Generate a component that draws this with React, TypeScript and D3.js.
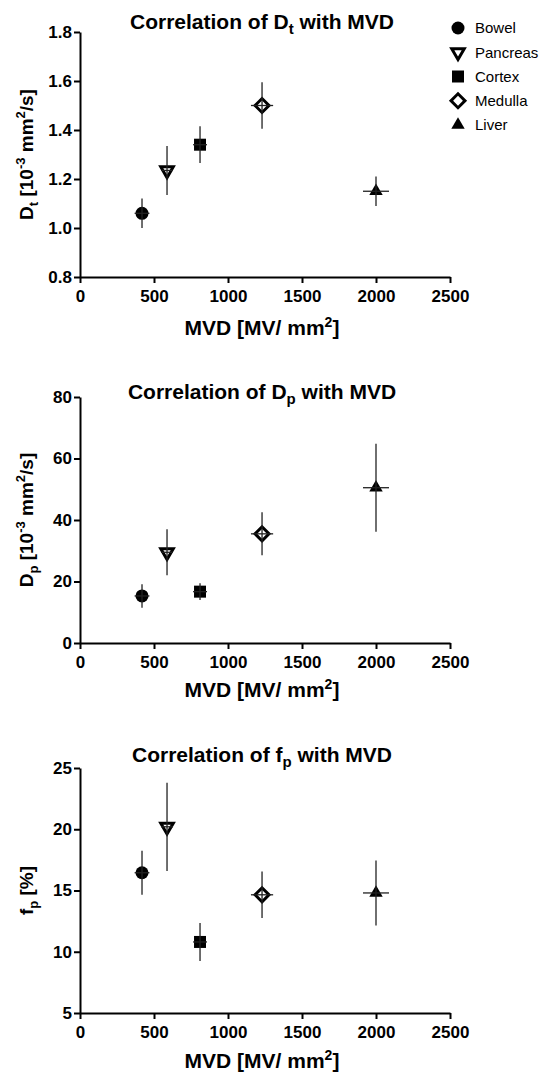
// Three stacked scatter panels: perfusion parameters vs. microvessel density
// (MVD), one marker per tissue with vertical and horizontal error bars.
import React, { useEffect, useRef } from 'react';
import * as d3 from 'd3';

const WIDTH = 542;
const HEIGHT = 1075;
const FONT = '"Liberation Sans", Arial, sans-serif';

const tissues = ['Bowel', 'Pancreas', 'Cortex', 'Medulla', 'Liver'];
const mvd = [419, 588, 811, 1230, 2000];
const mvdErr = [50, 40, 47, 75, 88];

const dtMean = [1.06, 1.235, 1.34, 1.5, 1.15];
const dtErr = [0.06, 0.1, 0.075, 0.095, 0.06];
const dpMean = [15.3, 29.5, 16.7, 35.5, 50.5];
const dpErr = [3.8, 7.5, 2.7, 7, 14.3];
const fpMean = [16.45, 20.2, 10.8, 14.65, 14.8];
const fpErr = [1.8, 3.6, 1.55, 1.9, 2.65];

const xTicks = [0, 500, 1000, 1500, 2000, 2500];
const dtTicks = [0.8, 1.0, 1.2, 1.4, 1.6, 1.8];
const dpTicks = [0, 20, 40, 60, 80];
const fpTicks = [5, 10, 15, 20, 25];

const PLOT_LEFT = 80;
const PLOT_RIGHT = 450;

type Panel = {
  sym: string;
  top: number;
  bottom: number;
  titleY: number;
  xLabelY: number;
  mean: number[];
  err: number[];
  ticks: number[];
  fmt: (v: number) => string;
};

const panels: Panel[] = [
  { sym: 't', top: 32, bottom: 277, titleY: 29, xLabelY: 335, mean: dtMean, err: dtErr, ticks: dtTicks, fmt: d3.format('.1f') },
  { sym: 'p', top: 397, bottom: 643, titleY: 399, xLabelY: 697, mean: dpMean, err: dpErr, ticks: dpTicks, fmt: d3.format('d') },
  { sym: 'p', top: 768, bottom: 1013, titleY: 762, xLabelY: 1068, mean: fpMean, err: fpErr, ticks: fpTicks, fmt: d3.format('d') },
];

// marker style per tissue
const markers = [
  { type: d3.symbolCircle, size: 133, fill: '#000', stroke: 'none', rotate: 0 },
  { type: d3.symbolTriangle, size: 68, fill: '#fff', stroke: '#000', rotate: 180 },
  { type: d3.symbolSquare, size: 144, fill: '#000', stroke: 'none', rotate: 0 },
  { type: d3.symbolSquare, size: 98, fill: '#fff', stroke: '#000', rotate: 45 },
  { type: d3.symbolTriangle, size: 78, fill: '#000', stroke: 'none', rotate: 0 },
];

const App = () => {
  const svgRef = useRef<SVGSVGElement>(null);

  useEffect(() => {
    document.body.style.margin = '0';
    const svg = d3.select(svgRef.current).attr('width', WIDTH).attr('height', HEIGHT);
    svg.selectAll('*').remove();
    svg.append('rect').attr('width', WIDTH).attr('height', HEIGHT).attr('fill', 'white');

    const x = d3.scaleLinear().domain([0, 2500]).range([PLOT_LEFT, PLOT_RIGHT]);

    panels.forEach((p, pi) => {
      const y = d3
        .scaleLinear()
        .domain([p.ticks[0], p.ticks[p.ticks.length - 1]])
        .range([p.bottom, p.top]);
      const g = svg.append('g');

      // axes
      const xAxis = g
        .append('g')
        .attr('transform', `translate(0,${p.bottom})`)
        .call(
          d3.axisBottom(x).tickValues(xTicks).tickFormat(d3.format('d') as any)
            .tickSize(6).tickSizeOuter(0).tickPadding(7),
        );
      const yAxis = g
        .append('g')
        .attr('transform', `translate(${PLOT_LEFT},0)`)
        .call(d3.axisLeft(y).tickValues(p.ticks).tickFormat(p.fmt as any).tickSize(6).tickSizeOuter(0).tickPadding(2));
      [xAxis, yAxis].forEach((a) => {
        a.selectAll('path, line').attr('stroke', '#000').attr('stroke-width', 2);
        a.selectAll('text')
          .attr('fill', '#000')
          .attr('font-family', FONT)
          .attr('font-weight', 'bold')
          .attr('font-size', '17px');
      });

      // markers
      g.append('g')
        .selectAll('path')
        .data(tissues)
        .enter()
        .append('path')
        .attr('d', (_d, i) => d3.symbol().type(markers[i].type).size(markers[i].size)())
        .attr('transform', (_d, i) => `translate(${x(mvd[i])},${y(p.mean[i])}) rotate(${markers[i].rotate})`)
        .attr('fill', (_d, i) => markers[i].fill)
        .attr('stroke', (_d, i) => markers[i].stroke)
        .attr('stroke-width', 3)
        .attr('stroke-linejoin', 'miter');

      // error bars (drawn over the markers, visible through open symbols)
      const eb = g.append('g').attr('stroke', '#222').attr('stroke-width', 1.3);
      eb.selectAll('line.v')
        .data(tissues)
        .enter()
        .append('line')
        .attr('x1', (_d, i) => x(mvd[i]))
        .attr('x2', (_d, i) => x(mvd[i]))
        .attr('y1', (_d, i) => y(p.mean[i] - p.err[i]))
        .attr('y2', (_d, i) => y(p.mean[i] + p.err[i]));
      eb.selectAll('line.h')
        .data(tissues)
        .enter()
        .append('line')
        .attr('x1', (_d, i) => x(mvd[i] - mvdErr[i]))
        .attr('x2', (_d, i) => x(mvd[i] + mvdErr[i]))
        .attr('y1', (_d, i) => y(p.mean[i]))
        .attr('y2', (_d, i) => y(p.mean[i]));

      // title
      const qty = pi === 2 ? 'f' : 'D';
      const title = g
        .append('text')
        .attr('x', 262)
        .attr('y', p.titleY)
        .attr('text-anchor', 'middle')
        .attr('font-family', FONT)
        .attr('font-weight', 'bold')
        .attr('font-size', '21px');
      title.append('tspan').text(`Correlation of ${qty}`);
      title.append('tspan').attr('font-size', '15px').attr('dy', 5).text(p.sym);
      title.append('tspan').attr('dy', -5).text(' with MVD');

      // x label
      const xl = g
        .append('text')
        .attr('x', 262)
        .attr('y', p.xLabelY)
        .attr('text-anchor', 'middle')
        .attr('font-family', FONT)
        .attr('font-weight', 'bold')
        .attr('font-size', '21px');
      xl.append('tspan').text('MVD [MV/ mm');
      xl.append('tspan').attr('font-size', '14px').attr('dy', -8).text('2');
      xl.append('tspan').attr('dy', 8).text(']');

      // y label
      const yc = (p.top + p.bottom) / 2;
      const yl = g
        .append('text')
        .attr('transform', `translate(33,${yc}) rotate(-90)`)
        .attr('text-anchor', 'middle')
        .attr('font-family', FONT)
        .attr('font-weight', 'bold')
        .attr('font-size', '19px');
      yl.append('tspan').text(qty);
      yl.append('tspan').attr('font-size', '13px').attr('dy', 5).text(p.sym);
      if (pi === 2) {
        yl.append('tspan').attr('dy', -5).text(' [%]');
      } else {
        yl.append('tspan').attr('dy', -5).text(' [10');
        yl.append('tspan').attr('font-size', '13px').attr('dy', -8).text('-3');
        yl.append('tspan').attr('dy', 8).text(' mm');
        yl.append('tspan').attr('font-size', '13px').attr('dy', -8).text('2');
        yl.append('tspan').attr('dy', 8).text('/s]');
      }
    });

    // legend
    const legendY = d3.scalePoint().domain(tissues).range([28, 125]);
    const lg = svg.append('g');
    lg.selectAll('path')
      .data(tissues)
      .enter()
      .append('path')
      .attr('d', (_d, i) => d3.symbol().type(markers[i].type).size(markers[i].size)())
      .attr('transform', (d, i) => `translate(458,${legendY(d)}) rotate(${markers[i].rotate})`)
      .attr('fill', (_d, i) => markers[i].fill)
      .attr('stroke', (_d, i) => markers[i].stroke)
      .attr('stroke-width', 3);
    lg.selectAll('text')
      .data(tissues)
      .enter()
      .append('text')
      .attr('x', 475)
      .attr('y', (d) => legendY(d) as number)
      .attr('dy', '0.35em')
      .attr('font-family', FONT)
      .attr('font-size', '15px')
      .attr('fill', '#000')
      .text((d) => d);
  }, []);

  return <svg ref={svgRef} style={{ display: 'block' }} />;
};

export default App;
